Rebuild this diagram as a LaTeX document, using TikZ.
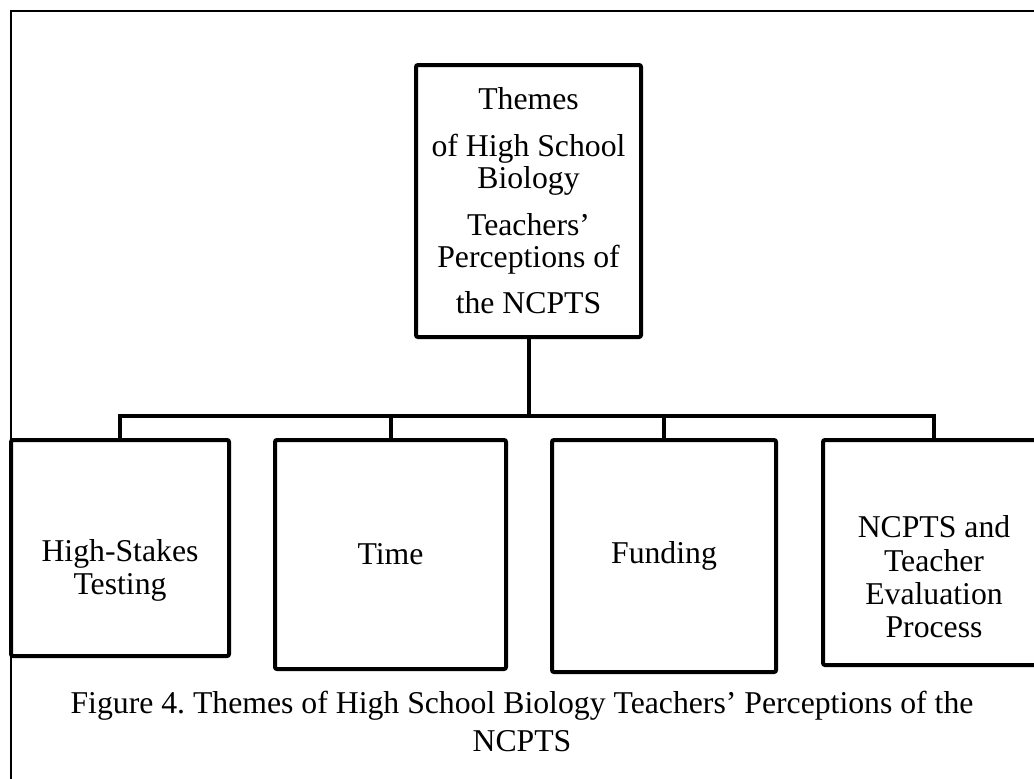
\documentclass[tikz,border=0pt]{standalone}
\usepackage{fontspec}
\setmainfont{Liberation Serif}
\frenchspacing
\usetikzlibrary{positioning}
\tikzset{theme/.style={draw, line width=3pt, rounded corners=1.5pt, align=center, inner sep=2pt,
		font=\fontsize{23.8}{25}\selectfont},
	link/.style={line width=3pt}}

\begin{document}
\begin{tikzpicture}[x=0.75pt,y=-0.75pt]
	\useasboundingbox (0,0) rectangle (1034,778);
	\clip (0,0) rectangle (1034,778);
	% frame
	\draw[line width=1.5pt] (1040,11) -- (11,11) -- (11,790);
	
	\node[theme, minimum width=168.75pt, minimum height=204pt,
	font=\fontsize{23.8}{24}\selectfont] (top) at (528.5,201)
	{Themes\\[11pt]of High School\\Biology\\[11pt]Teachers'\\Perceptions of\\[11pt]the NCPTS};
	
	\node[theme, text height=75pt, minimum width=163.5pt, minimum height=162pt] (hst) at (120,548) {High-Stakes\\Testing};
	\node[theme, minimum width=173.25pt, minimum height=171.75pt] (time) at (390.5,554.5) {Time};
	\node[theme, minimum width=168pt, minimum height=174pt] (fund) at (664,556) {Funding};
	\node[theme, text height=128pt, minimum width=166.5pt, minimum height=168.75pt] (eval) at (934,552.5)
	{NCPTS and\\Teacher\\Evaluation\\Process};
	
	\coordinate (bar) at (0,416);
	\draw[link] (top.south) -- (top.south |- bar);
	\draw[link] (hst.north) -- (hst.north |- bar) -| (eval.north);
	\draw[link] (time.north) -- (time.north |- bar);
	\draw[link] (fund.north) -- (fund.north |- bar);
	
	\node[anchor=base, align=center, inner sep=0pt, font=\fontsize{23.8}{28.5}\selectfont] (cap) at (522,751)
	{Figure 4. Themes of High School Biology Teachers' Perceptions of the\\NCPTS};
\end{tikzpicture}
\end{document}
